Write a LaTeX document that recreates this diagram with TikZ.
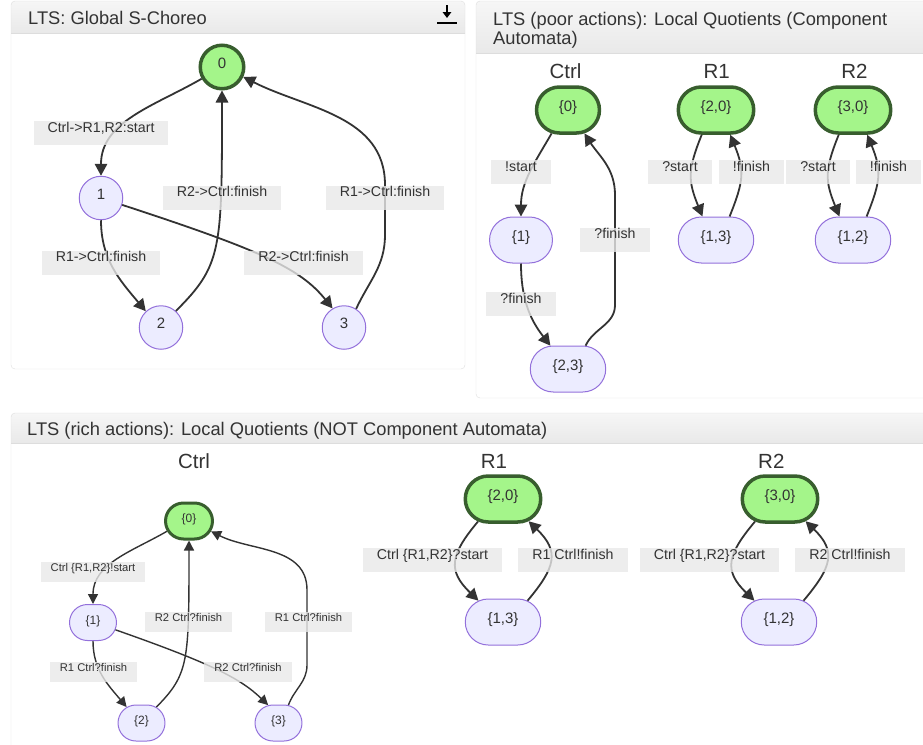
\documentclass[tikz,border=0pt]{standalone}
\usepackage{fontspec}
\setmainfont{Liberation Sans}
\usetikzlibrary{arrows.meta, positioning, shapes.misc}

\definecolor{stategreen}{RGB}{164,245,138}
\definecolor{stateborder}{RGB}{56,94,46}
\definecolor{statefill}{RGB}{236,236,255}
\definecolor{stateline}{RGB}{147,112,219}
\definecolor{edgegrey}{RGB}{51,51,51}
\definecolor{lblgrey}{RGB}{232,232,232}
\definecolor{panelline}{RGB}{221,221,221}
\definecolor{headtop}{RGB}{246,246,246}
\definecolor{headbot}{RGB}{233,233,233}

\tikzset{
    initstate/.style={draw=stateborder, fill=stategreen, line width=3.5pt},
    plainstate/.style={draw=stateline, fill=statefill, line width=1pt},
    circstate/.style={circle, minimum size=43.5pt, inner sep=0pt, text=edgegrey,
        font=\fontsize{15}{18}\selectfont, text height=11pt, text depth=9pt},
    pillstate/.style={rounded rectangle, minimum height=46pt, inner xsep=20pt,
        inner ysep=0pt, text=edgegrey, font=\fontsize{15}{18}\selectfont, text height=11pt, text depth=9pt},
    smallpill/.style={rounded rectangle, minimum height=36pt, inner xsep=14.5pt,
        inner ysep=0pt, text=edgegrey, font=\fontsize{12}{14}\selectfont, text height=9pt, text depth=6pt},
    trans/.style={draw=edgegrey, line width=1.8pt, -{Triangle[length=12pt,width=12.5pt]}},
    smalltrans/.style={draw=edgegrey, line width=1.4pt, -{Triangle[length=10pt,width=10pt]}},
    act/.style={fill=lblgrey, fill opacity=.8, text opacity=1, text=edgegrey, inner xsep=14pt,
        inner ysep=0pt, text height=11pt, text depth=13pt, font=\fontsize{14.2}{17}\selectfont},
    smallact/.style={act, inner xsep=10pt, text height=9pt, text depth=11pt, font=\fontsize{11.2}{13}\selectfont},
    paneltitle/.style={anchor=base west, inner sep=0pt, text=edgegrey, font=\fontsize{18.3}{19}\selectfont},
    graphtitle/.style={anchor=base, inner sep=0pt, text=edgegrey, font=\fontsize{20.5}{24}\selectfont},
}

\begin{document}
\begin{tikzpicture}[x=1pt, y=1pt]
    \path[use as bounding box] (0,0) rectangle (923,-744);
    \clip (0,0) rectangle (923,-744);

    % panel frames
    \begin{scope}
        \clip[rounded corners=4pt] (11,-1) rectangle (465,-369);
        \shade[top color=headtop, bottom color=headbot] (11,-1) rectangle (465,-33);
    \end{scope}
    \draw[panelline] (11,-33) -- (465,-33);
    \draw[panelline, rounded corners=4pt] (11,-1) rectangle (465,-369);
    \begin{scope}
        \clip[rounded corners=4pt] (476,-1) rectangle (940,-398);
        \shade[top color=headtop, bottom color=headbot] (476,-1) rectangle (940,-53);
    \end{scope}
    \draw[panelline] (476,-53) -- (940,-53);
    \draw[panelline, rounded corners=4pt] (476,-1) rectangle (940,-398);
    \begin{scope}
        \clip[rounded corners=4pt] (11,-413) rectangle (940,-760);
        \shade[top color=headtop, bottom color=headbot] (11,-413) rectangle (940,-443);
    \end{scope}
    \draw[panelline] (11,-443) -- (940,-443);
    \draw[panelline, rounded corners=4pt] (11,-413) rectangle (940,-760);

    % download icon
    \draw[black, line width=2.2pt, -{Triangle[length=6pt,width=8.5pt]}] (447,-5) -- (447,-18);
    \draw[black, line width=1.8pt] (437,-23) -- (457,-23);

    \node[paneltitle] (t1) at (28,-24) {LTS: Global S-Choreo};
    \node[paneltitle] (t2) at (493,-25.6) {LTS (poor actions): Local Quotients (Component};
    \node[paneltitle] (t2b) at ([yshift=-19pt]t2.base west) {Automata)};
    \node[paneltitle] (t3) at (27,-435.6) {LTS (rich actions): Local Quotients (NOT Component Automata)};

    % global choreography
    \node[circstate, initstate] (g0) at (222,-67) {0};
    \node[circstate, plainstate] (g1) at (101,-198) {1};
    \node[circstate, plainstate] (g2) at (161,-327.5) {2};
    \node[circstate, plainstate] (g3) at (344,-327.5) {3};

    \draw[trans] (g0.210) to[out=210,in=90] (g1.north);
    \draw[trans] (g1.south) to[out=-90,in=130] (g2.133);
    \draw[trans] (g2.48) .. controls (222,-265) and (222,-250) .. (g0.south);
    \draw[trans] (g1.-18) .. controls (260,-250) and (300,-268) .. (g3.121);
    \draw[trans] (g3.57) to[out=65,in=-90] (385,-235) -- (385,-185) to[out=90,in=-27] (g0.-25);

    \node[act] (la) at (101,-133) {Ctrl->R1,R2:start};
    \node[act] (lb) at (222,-197.5) {R2->Ctrl:finish};
    \node[act] (lc) at (385,-197.5) {R1->Ctrl:finish};
    \node[act] (ld) at (101,-262.5) {R1->Ctrl:finish};
    \node[act] (le) at (303.5,-262.5) {R2->Ctrl:finish};

    % poor actions
    \node[graphtitle] (hc) at (565.5,-78) {Ctrl};
    \node[graphtitle] (h1) at (716.7,-78) {R1};
    \node[graphtitle] (h2) at (854.5,-78) {R2};

    \node[pillstate, initstate] (c0) at (568,-110) {\{0\}};
    \node[pillstate, plainstate] (c1) at (521,-240) {\{1\}};
    \node[pillstate, plainstate] (c23) at (568,-369) {\{2,3\}};
    \node[pillstate, initstate] (r20) at (716,-110) {\{2,0\}};
    \node[pillstate, plainstate] (r13) at (716,-240) {\{1,3\}};
    \node[pillstate, initstate] (r30) at (853,-110) {\{3,0\}};
    \node[pillstate, plainstate] (r12) at (853,-240) {\{1,2\}};

    \draw[trans] (c0.235) to[out=240,in=90] (c1.north);
    \draw[trans] (c1.south) to[out=-90,in=128] (c23.127);
    \draw[trans] (c23.53) to[out=65,in=-90] (615,-305) -- (615,-195) to[out=90,in=-57] (c0.-55);
    \draw[trans] (r20.240) to[out=248,in=112,looseness=1.2] (r13.120);
    \draw[trans] (r13.60) to[out=68,in=-68,looseness=1.2] (r20.-60);
    \draw[trans] (r30.240) to[out=248,in=112,looseness=1.2] (r12.120);
    \draw[trans] (r12.60) to[out=68,in=-68,looseness=1.2] (r30.-60);

    \begin{scope}[every node/.append style={inner xsep=5pt, text height=12pt}]
        \node[act] (p1) at (521,-172) {!start};
        \node[act] (p2) at (521,-304) {?finish};
        \node[act] (p3) at (615,-239.5) {?finish};
        \node[act] (p4) at (680,-172) {?start};
        \node[act] (p5) at (751.5,-172) {!finish};
        \node[act] (p6) at (818,-172) {?start};
        \node[act] (p7) at (888.5,-172) {!finish};
    \end{scope}

    % rich actions
    \node[graphtitle] (hk) at (194,-468.5) {Ctrl};
    \node[graphtitle] (hm) at (494,-468.5) {R1};
    \node[graphtitle] (hn) at (771.3,-468.5) {R2};

    \node[smallpill, initstate, line width=3pt] (k0) at (189,-521) {\{0\}};
    \node[smallpill, plainstate] (k1) at (93,-622.5) {\{1\}};
    \node[smallpill, plainstate] (k2) at (141.5,-723) {\{2\}};
    \node[smallpill, plainstate] (k3) at (278.5,-723) {\{3\}};

    \draw[smalltrans] (k0.205) to[out=210,in=90] (k1.north);
    \draw[smalltrans] (k1.south) to[out=-90,in=130] (k2.133);
    \draw[smalltrans] (k2.47) .. controls (189,-674) and (189,-662) .. (k0.south);
    \draw[smalltrans] (k1.-18) .. controls (210,-663) and (240,-678) .. (k3.120);
    \draw[smalltrans] (k3.61) to[out=70,in=-90] (307,-665) -- (307,-590) to[out=90,in=-27] (k0.-25);

    \node[smallact] (q1) at (93,-572) {Ctrl \{R1,R2\}!start};
    \node[smallact] (q2) at (188.5,-622) {R2 Ctrl?finish};
    \node[smallact] (q3) at (308.5,-622) {R1 Ctrl?finish};
    \node[smallact] (q4) at (93.5,-672) {R1 Ctrl?finish};
    \node[smallact] (q5) at (248,-672) {R2 Ctrl?finish};

    \node[pillstate, initstate] (m20) at (503,-499) {\{2,0\}};
    \node[pillstate, plainstate] (m13) at (503,-622) {\{1,3\}};
    \node[pillstate, initstate] (n30) at (780,-499) {\{3,0\}};
    \node[pillstate, plainstate] (n12) at (779,-622) {\{1,2\}};

    \draw[trans] (m20.222) to[out=230,in=136,looseness=1.4] (m13.139);
    \draw[trans] (m13.41) to[out=50,in=-44,looseness=1.4] (m20.-41);
    \draw[trans] (n30.222) to[out=230,in=136,looseness=1.4] (n12.139);
    \draw[trans] (n12.41) to[out=50,in=-44,looseness=1.4] (n30.-41);

    \begin{scope}[every node/.append style={inner xsep=13pt, text height=12pt, text depth=12pt}]
        \node[act] (u1) at (432.5,-560) {Ctrl \{R1,R2\}?start};
        \node[act] (u2) at (573,-560) {R1 Ctrl!finish};
        \node[act] (u3) at (709.5,-560) {Ctrl \{R1,R2\}?start};
        \node[act] (u4) at (850,-560) {R2 Ctrl!finish};
    \end{scope}
\end{tikzpicture}
\end{document}
